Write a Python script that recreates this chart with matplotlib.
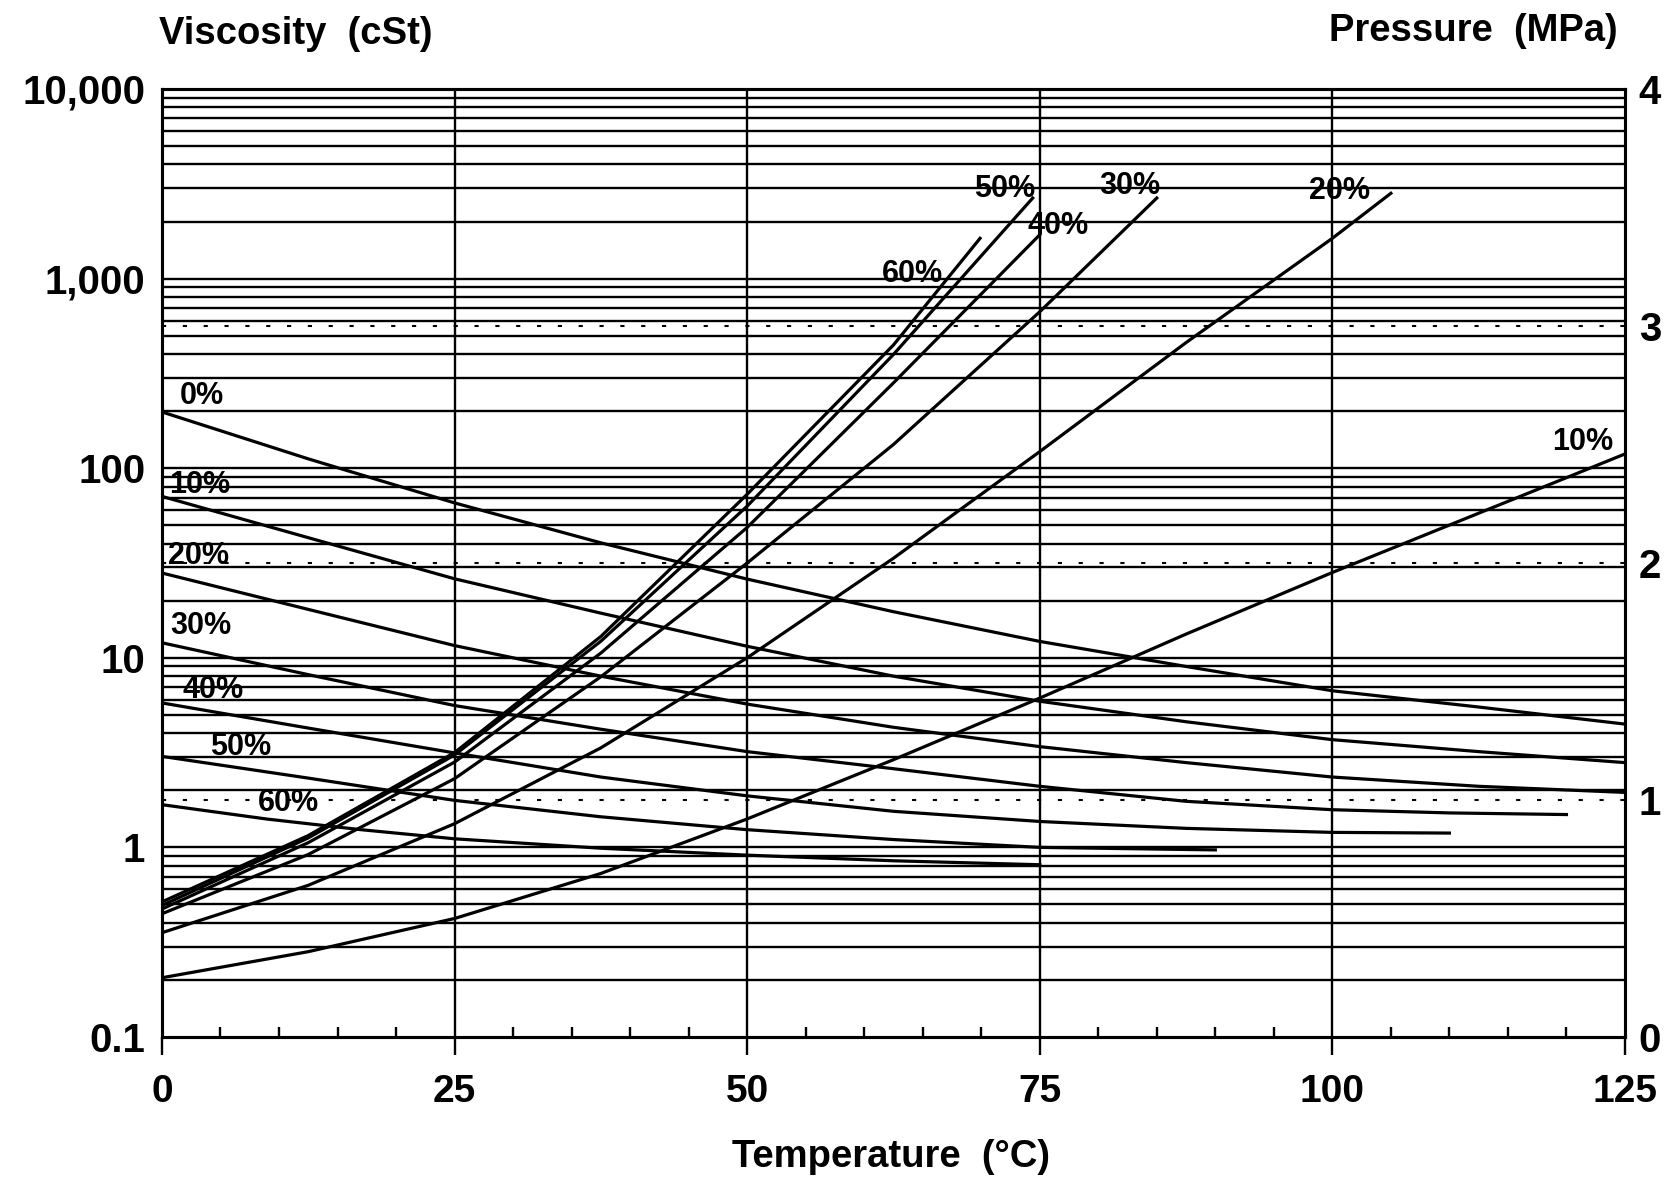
import matplotlib.pyplot as plt
from matplotlib.ticker import FixedLocator, NullFormatter

plt.rcParams['font.family'] = ['Liberation Sans', 'DejaVu Sans']
plt.rcParams['font.weight'] = 'bold'

# viscosity curves (cSt) vs temperature, left log axis
visc_T = [0, 12.5, 25, 37.5, 50, 62.5, 75, 87.5, 100, 112.5, 125]
visc_0 = [198, 112, 65.6, 40.4, 26, 17.5, 12.2, 9.0, 6.7, 5.5, 4.47]
visc_10 = [71, 43, 26.1, 17.2, 11.5, 8.0, 5.9, 4.6, 3.7, 3.2, 2.8]
visc_20 = [28, 18.0, 11.6, 8.0, 5.7, 4.3, 3.4, 2.8, 2.35, 2.1, 1.95]
visc_30_T = [0, 12.5, 25, 37.5, 50, 62.5, 75, 87.5, 100, 110, 120]
visc_30 = [12.0, 8.15, 5.6, 4.2, 3.2, 2.6, 2.1, 1.75, 1.58, 1.52, 1.49]
visc_40_T = [0, 12.5, 25, 37.5, 50, 62.5, 75, 87.5, 100, 110]
visc_40 = [5.78, 4.26, 3.15, 2.35, 1.87, 1.55, 1.37, 1.26, 1.20, 1.19]
visc_50_T = [0, 12.5, 25, 37.5, 50, 62.5, 75, 90]
visc_50 = [3.02, 2.32, 1.77, 1.45, 1.24, 1.10, 1.0, 0.97]
visc_60_T = [0, 9, 17, 25, 37.5, 50, 62.5, 75]
visc_60 = [1.68, 1.41, 1.24, 1.11, 0.99, 0.91, 0.85, 0.81]

# pressure curves (MPa), right linear axis
pres_10_T = [0, 12.5, 25, 37.5, 50, 62.5, 75, 87.5, 100, 112.5, 125]
pres_10 = [0.25, 0.36, 0.50, 0.69, 0.92, 1.17, 1.43, 1.70, 1.96, 2.21, 2.46]
pres_20_T = [0, 12.5, 25, 37.5, 50, 62.5, 75, 87.5, 100, 105]
pres_20 = [0.44, 0.64, 0.90, 1.22, 1.60, 2.02, 2.47, 2.93, 3.37, 3.56]
pres_30_T = [0, 12.5, 25, 37.5, 50, 62.5, 75, 85]
pres_30 = [0.52, 0.77, 1.09, 1.52, 2.0, 2.5, 3.06, 3.54]
pres_40_T = [0, 12.5, 25, 37.5, 50, 62.5, 75]
pres_40 = [0.54, 0.82, 1.16, 1.62, 2.15, 2.76, 3.385]
pres_50_T = [0, 12.5, 25, 37.5, 50, 62.5, 74.4]
pres_50 = [0.555, 0.84, 1.19, 1.67, 2.24, 2.88, 3.54]
pres_60_T = [0, 12.5, 25, 37.5, 50, 62.5, 69.9]
pres_60 = [0.57, 0.85, 1.20, 1.69, 2.29, 2.92, 3.37]

x_ticks = [0, 25, 50, 75, 100, 125]
y_ticks = [0.1, 1, 10, 100, 1000, 10000]
y_labels = ['0.1', '1', '10', '100', '1,000', '10,000']
p_ticks = [0, 1, 2, 3, 4]

fig = plt.figure(figsize=(16.68, 11.85), dpi=100)
ax = fig.add_axes([0.0971, 0.1249, 0.8771, 0.8])
ax2 = ax.twinx()

lw_grid = 1.7
lw_curve = 2.3

ax.set_xlim(0, 125)
ax.set_yscale('log')
ax.set_ylim(0.1, 10000)
ax2.set_ylim(0, 4)

# log grid: every 1..9 x decade
minor_vals = [m * 10.0 ** k for k in range(-1, 4) for m in range(2, 10)]
for v in minor_vals + [1, 10, 100, 1000]:
    ax.axhline(v, color='black', lw=lw_grid, zorder=1)
for t in x_ticks[1:-1]:
    ax.axvline(t, color='black', lw=lw_grid, zorder=1)
for p in [1, 2, 3]:
    ax2.axhline(p, color='black', lw=1.5, ls=(0, (2, 8)), zorder=1)

ax.plot(visc_T, visc_0, color='black', lw=lw_curve)
ax.plot(visc_T, visc_10, color='black', lw=lw_curve)
ax.plot(visc_T, visc_20, color='black', lw=lw_curve)
ax.plot(visc_30_T, visc_30, color='black', lw=lw_curve)
ax.plot(visc_40_T, visc_40, color='black', lw=lw_curve)
ax.plot(visc_50_T, visc_50, color='black', lw=lw_curve)
ax.plot(visc_60_T, visc_60, color='black', lw=lw_curve)

ax2.plot(pres_10_T, pres_10, color='black', lw=lw_curve)
ax2.plot(pres_20_T, pres_20, color='black', lw=lw_curve)
ax2.plot(pres_30_T, pres_30, color='black', lw=lw_curve)
ax2.plot(pres_40_T, pres_40, color='black', lw=lw_curve)
ax2.plot(pres_50_T, pres_50, color='black', lw=lw_curve)
ax2.plot(pres_60_T, pres_60, color='black', lw=lw_curve)

# curve labels
lab_kw = dict(fontsize=22, fontweight='bold', ha='center', va='center')
ax.text(3.4, 239, '0%', **lab_kw)
ax.text(3.2, 81.7, '10%', **lab_kw)
ax.text(3.1, 34.4, '20%', **lab_kw)
ax.text(3.3, 14.7, '30%', **lab_kw)
ax.text(4.4, 6.74, '40%', **lab_kw)
ax.text(6.7, 3.40, '50%', **lab_kw)
ax.text(10.8, 1.72, '60%', **lab_kw)
ax2.text(64.1, 3.22, '60%', **lab_kw)
ax2.text(72.0, 3.58, '50%', **lab_kw)
ax2.text(76.6, 3.42, '40%', **lab_kw)
ax2.text(82.7, 3.59, '30%', **lab_kw)
ax2.text(100.6, 3.57, '20%', **lab_kw)
ax2.text(121.4, 2.51, '10%', **lab_kw)

# ticks
ax.xaxis.set_major_locator(FixedLocator(x_ticks))
ax.xaxis.set_minor_locator(FixedLocator([t for t in range(5, 125, 5) if t % 25]))
ax.tick_params(axis='x', which='major', direction='out', length=13, width=lw_grid,
               labelsize=28, pad=14)
ax.tick_params(axis='x', which='minor', direction='in', length=7, width=lw_grid)
ax.yaxis.set_major_locator(FixedLocator(y_ticks))
ax.yaxis.set_minor_locator(FixedLocator([]))
ax.yaxis.set_minor_formatter(NullFormatter())
ax.set_yticklabels(y_labels)
ax.tick_params(axis='y', which='both', length=0, labelsize=29, pad=12)
ax2.set_yticks(p_ticks)
ax2.tick_params(axis='y', length=0, labelsize=29, pad=10)

for a in (ax, ax2):
    for s in a.spines.values():
        s.set_linewidth(2.2)

fig.text(0.1775, 0.971, 'Viscosity  (cSt)', fontsize=27.5, ha='center', va='center')
fig.text(0.883, 0.974, 'Pressure  (MPa)', fontsize=27.5, ha='center', va='center')
fig.text(0.534, 0.0236, 'Temperature  (°C)', fontsize=27.5, ha='center', va='center')

fig.savefig('out.png', dpi=100)
